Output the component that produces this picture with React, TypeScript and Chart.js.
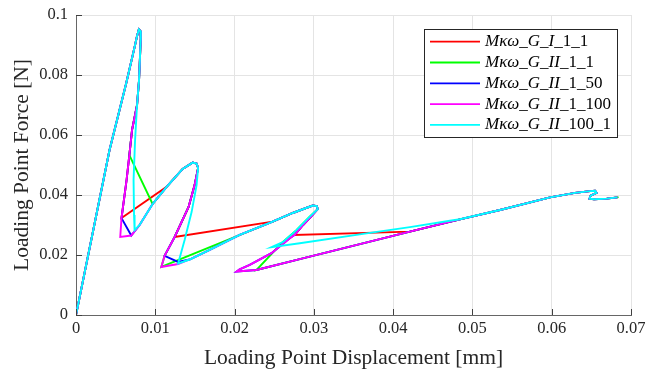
import React, { useEffect, useRef } from 'react';
import { Chart, registerables } from 'chart.js';

Chart.register(...registerables);

// ---- axis ticks ----
const xTicks = [0, 0.01, 0.02, 0.03, 0.04, 0.05, 0.06, 0.07];
const yTicks = [0, 0.02, 0.04, 0.06, 0.08, 0.1];

// ---- legend ----
const seriesNames = ['Mκω_G_I_1_1', 'Mκω_G_II_1_1', 'Mκω_G_II_1_50', 'Mκω_G_II_1_100', 'Mκω_G_II_100_1'];
const seriesColors = ['#ff0000', '#00ff00', '#0000ff', '#ff00ff', '#00ffff'];

// ---- curve segments (displacement [mm], force [N]) ----
const riseX = [0, 0.00423, 0.00634, 0.00739, 0.0077, 0.00793, 0.00812, 0.00817, 0.00795, 0.0077];
const riseY = [0, 0.055, 0.0773, 0.0893, 0.093, 0.0952, 0.0947, 0.0923, 0.0783, 0.07];

const snapX = [0.00707, 0.00673, 0.00638, 0.00574, 0.00558];
const snapY = [0.0617, 0.0533, 0.045, 0.0323, 0.026];
const cyanSnapX = [0.00745, 0.00726, 0.00732, 0.00739];
const cyanSnapY = [0.0583, 0.045, 0.0333, 0.0283];
const cornerAX = [0.00697];
const cornerAY = [0.0265];

const loop2X = [0.00802, 0.00966, 0.01143, 0.01345, 0.01471, 0.01521, 0.0154];
const loop2Y = [0.03, 0.037, 0.0427, 0.0487, 0.0508, 0.0505, 0.049];

const drop2X = [0.01496, 0.0142, 0.01244, 0.01117, 0.01076];
const drop2Y = [0.0433, 0.036, 0.026, 0.0197, 0.016];
const cyanDrop2X = [0.01521, 0.01458, 0.0137, 0.01288];
const cyanDrop2Y = [0.0433, 0.0343, 0.025, 0.0172];
const magentaCornerBX = [0.01288];
const magentaCornerBY = [0.017];
const blueCornerBX = [0.01288];
const blueCornerBY = [0.0177];
const linkCX = [0.02481];
const linkCY = [0.0311];

const loop3X = [0.01433, 0.01686, 0.02064, 0.02443, 0.02734, 0.02885, 0.02986, 0.03037, 0.03049];
const loop3Y = [0.0185, 0.0217, 0.0267, 0.0307, 0.034, 0.0355, 0.0365, 0.0363, 0.0353];

const drop3X = [0.0297, 0.02864, 0.02759, 0.02696, 0.02465, 0.02191, 0.02064, 0.02027];
const drop3Y = [0.033, 0.03, 0.0267, 0.0256, 0.0206, 0.0167, 0.0152, 0.0145];
const cyanDrop3X = [0.02948, 0.0278, 0.02607, 0.02465];
const cyanDrop3Y = [0.0328, 0.0283, 0.0243, 0.0226];

const baseX = [0.02275, 0.02822, 0.0358, 0.04211];
const baseY = [0.015, 0.0186, 0.0236, 0.0278];
const cyanBaseX = [0.02822, 0.03664, 0.04211, 0.04716];
const cyanBaseY = [0.0239, 0.0272, 0.0293, 0.0314];

const tailX = [0.04842, 0.05347, 0.05979, 0.06294, 0.06484, 0.06547, 0.06566, 0.0649, 0.06477, 0.06534, 0.06694, 0.06828];
const tailY = [0.0319, 0.035, 0.0392, 0.0407, 0.0413, 0.0414, 0.0407, 0.0398, 0.0388, 0.0386, 0.0388, 0.0392];
const greenEndX = [0.06843];
const greenEndY = [0.0393];

type P = { x: number; y: number };
const seg = (xs: number[], ys: number[], a = 0, b = xs.length): P[] =>
  xs.slice(a, b).map((x, i) => ({ x, y: ys[a + i] }));

const redData: P[] = [
  ...seg(riseX, riseY),
  ...seg(snapX, snapY, 0, 4),
  ...seg(loop2X, loop2Y, 2),
  ...seg(drop2X, drop2Y, 0, 3),
  ...seg(linkCX, linkCY),
  ...seg(loop3X, loop3Y, 4),
  ...seg(drop3X, drop3Y, 0, 3),
  ...seg(baseX, baseY, 3),
  ...seg(tailX, tailY),
];
const greenData: P[] = [
  ...seg(riseX, riseY),
  ...seg(snapX, snapY, 0, 2),
  ...seg(loop2X, loop2Y, 1),
  ...seg(drop2X, drop2Y),
  ...seg(linkCX, linkCY),
  ...seg(loop3X, loop3Y, 4),
  ...seg(cyanDrop3X, cyanDrop3Y, 0, 3),
  ...seg(baseX, baseY),
  ...seg(tailX, tailY),
  ...seg(greenEndX, greenEndY),
];
const blueData: P[] = [
  ...seg(riseX, riseY),
  ...seg(snapX, snapY, 0, 4),
  ...seg(cornerAX, cornerAY),
  ...seg(loop2X, loop2Y),
  ...seg(drop2X, drop2Y, 0, 4),
  ...seg(blueCornerBX, blueCornerBY),
  ...seg(loop3X, loop3Y),
  ...seg(drop3X, drop3Y),
  ...seg(baseX, baseY),
  ...seg(tailX, tailY),
];
const magentaData: P[] = [
  ...seg(riseX, riseY),
  ...seg(snapX, snapY),
  ...seg(cornerAX, cornerAY),
  ...seg(loop2X, loop2Y),
  ...seg(drop2X, drop2Y),
  ...seg(magentaCornerBX, magentaCornerBY),
  ...seg(loop3X, loop3Y),
  ...seg(drop3X, drop3Y),
  ...seg(baseX, baseY),
  ...seg(tailX, tailY),
];
const cyanData: P[] = [
  ...seg(riseX, riseY),
  ...seg(cyanSnapX, cyanSnapY),
  ...seg(loop2X, loop2Y),
  ...seg(cyanDrop2X, cyanDrop2Y),
  ...seg(loop3X, loop3Y),
  ...seg(cyanDrop3X, cyanDrop3Y),
  ...seg(cyanBaseX, cyanBaseY),
  ...seg(tailX, tailY),
];
const allData = [redData, greenData, blueData, magentaData, cyanData];

const SERIF = '"Liberation Serif", "DejaVu Serif", serif';
const TEXT = '#262626';

const legendPlugin = {
  id: 'boxLegend',
  afterDraw(chart: any) {
    const { ctx, chartArea } = chart;
    const w = 193;
    const h = 108;
    const x0 = Math.round(chartArea.right - 14 - w);
    const y0 = Math.round(chartArea.top + 14);
    ctx.save();
    ctx.fillStyle = '#ffffff';
    ctx.fillRect(x0, y0, w, h);
    ctx.strokeStyle = '#262626';
    ctx.lineWidth = 1;
    ctx.strokeRect(x0 + 0.5, y0 + 0.5, w, h);
    seriesNames.forEach((name, i) => {
      const cy = y0 + 12.7 + i * 20.8;
      ctx.strokeStyle = seriesColors[i];
      ctx.lineWidth = 1.8;
      ctx.beginPath();
      ctx.moveTo(x0 + 6, cy);
      ctx.lineTo(x0 + 56, cy);
      ctx.stroke();
      let tx = x0 + 61;
      ctx.textBaseline = 'middle';
      ctx.textAlign = 'left';
      ctx.fillStyle = '#000000';
      for (const ch of name) {
        ctx.font = /[0-9]/.test(ch) ? `17px ${SERIF}` : `italic 17px ${SERIF}`;
        ctx.fillText(ch, tx, cy);
        tx += ctx.measureText(ch).width;
      }
    });
    ctx.restore();
  },
};

const innerTicksPlugin = {
  id: 'innerTicks',
  afterDatasetsDraw(chart: any) {
    const { ctx, chartArea, scales } = chart;
    ctx.save();
    ctx.strokeStyle = '#404040';
    ctx.lineWidth = 1;
    ctx.beginPath();
    xTicks.forEach((v) => {
      const px = Math.round(scales.x.getPixelForValue(v)) + 0.5;
      ctx.moveTo(px, chartArea.bottom);
      ctx.lineTo(px, chartArea.bottom - 6);
    });
    yTicks.forEach((v) => {
      const py = Math.round(scales.y.getPixelForValue(v)) + 0.5;
      ctx.moveTo(chartArea.left, py);
      ctx.lineTo(chartArea.left + 6, py);
    });
    ctx.stroke();
    ctx.restore();
  },
};

export default function App() {
  const ref = useRef<HTMLCanvasElement | null>(null);
  useEffect(() => {
    if (!ref.current) return;
    const fmt = (v: any) => String(Number(Number(v).toFixed(4)));
    const chart = new Chart(ref.current, {
      type: 'scatter',
      data: {
        datasets: allData.map((d, i) => ({
          label: seriesNames[i],
          data: d,
          showLine: true,
          borderColor: seriesColors[i],
          backgroundColor: seriesColors[i],
          borderWidth: 1.9,
          pointRadius: 0,
          pointHoverRadius: 0,
          tension: 0,
          fill: false,
          order: 5 - i,
        })),
      },
      options: {
        animation: false,
        responsive: false,
        devicePixelRatio: 1,
        layout: { padding: { left: 0, right: 15, top: 15, bottom: 0 } },
        plugins: { legend: { display: false }, tooltip: { enabled: false } },
        scales: {
          x: {
            type: 'linear',
            min: 0,
            max: 0.07,
            afterFit: (s: any) => { s.height = 56; s.paddingRight = 0; s.paddingLeft = 0; },
            ticks: { stepSize: 0.01, callback: fmt, color: TEXT, font: { family: SERIF, size: 16.5 }, padding: 4, maxRotation: 0 },
            grid: { color: '#e4e4e4', lineWidth: 1, drawTicks: false },
            border: { display: true, color: '#666666', width: 1 },
            title: { display: true, text: 'Loading Point Displacement [mm]', color: TEXT, font: { family: SERIF, size: 21.5 }, padding: { top: 6, bottom: 0 } },
          },
          y: {
            type: 'linear',
            min: 0,
            max: 0.1,
            afterFit: (s: any) => { s.width = 76; s.paddingTop = 0; s.paddingBottom = 0; },
            ticks: { stepSize: 0.02, callback: fmt, color: TEXT, font: { family: SERIF, size: 16.5 }, padding: 8 },
            grid: { color: '#e4e4e4', lineWidth: 1, drawTicks: false },
            border: { display: true, color: '#666666', width: 1 },
            title: { display: true, text: 'Loading Point Force [N]', color: TEXT, font: { family: SERIF, size: 21.5 }, padding: { top: 9, bottom: 0 } },
          },
        },
      },
      plugins: [innerTicksPlugin, legendPlugin],
    });
    return () => chart.destroy();
  }, []);
  return (
    <div style={{ position: 'absolute', left: 0, top: 0, width: 646, height: 371, background: '#fff' }}>
      <canvas ref={ref} width={646} height={371} style={{ display: 'block', width: 646, height: 371 }} />
    </div>
  );
}
